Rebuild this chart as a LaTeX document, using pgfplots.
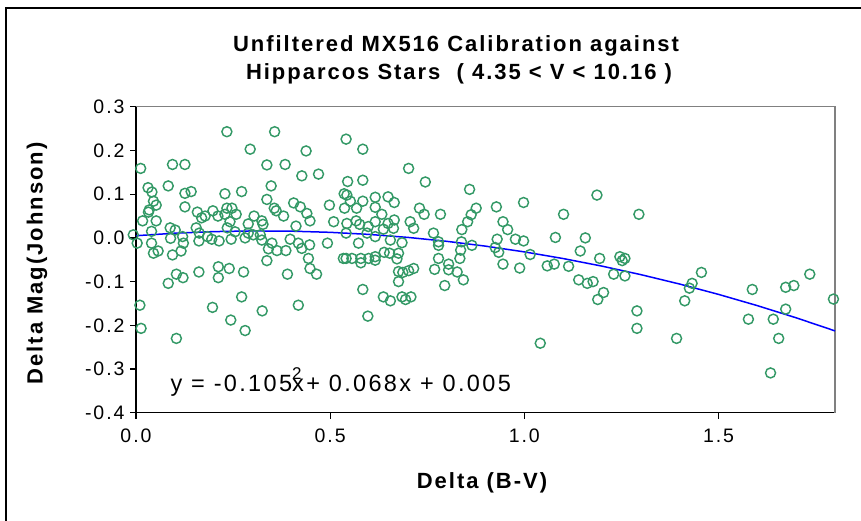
\documentclass[border=0pt]{standalone}
\usepackage{pgfplots}
\pgfplotsset{compat=1.18}
\usepackage{fontspec}
\setmainfont{Liberation Sans}
\newfontfamily\spacedfont[LetterSpace=10]{Liberation Sans}
\newfontfamily\spacedbold[LetterSpace=9]{Liberation Sans Bold}
\definecolor{markgreen}{RGB}{51,153,102}
\definecolor{fitblue}{RGB}{0,0,255}
\definecolor{boxgray}{RGB}{128,128,128}
\begin{document}
\begin{tikzpicture}[x=1pt,y=1pt]
\useasboundingbox (0,0) rectangle (861,520);
\fill[white] (0,0) rectangle (861,520);
\draw[line width=1.3pt, black] (6,-20) -- (6,512) -- (880,512);
\node[anchor=base, font=\spacedbold\fontsize{22}{26}\selectfont] at (456,468) {Unfiltered MX516 Calibration against};
\node[anchor=base, font=\spacedbold\fontsize{22}{26}\selectfont] at (459,440) {Hipparcos Stars \ ( 4.35 < V < 10.16 )};
\node[rotate=90, font=\spacedbold\fontsize{22}{26}\selectfont] at (37,256.5) {Delta Mag(Johnson)};
\node[font=\spacedbold\fontsize{22}{26}\selectfont] at (482,37) {Delta (B-V)};
\begin{axis}[
  at={(136pt,107.3pt)}, anchor=south west,
  scale only axis, width=699pt, height=305.9pt,
  xmin=0, xmax=1.8, ymin=-0.4, ymax=0.3,
  axis x line*=bottom, axis y line*=left,
  axis line style={line width=1.3pt, black, -},
  xtick={0,0.5,1,1.5},
  ytick={-0.4,-0.3,-0.2,-0.1,0,0.1,0.2,0.3},
  tick style={line width=1.2pt, black},
  major tick length=6pt, tick align=outside,
  /pgf/number format/assume math mode=true,
  xticklabel style={yshift=-7pt, font=\spacedfont\fontsize{19.5}{22}\selectfont, /pgf/number format/.cd, fixed, fixed zerofill, precision=1},
  yticklabel style={xshift=-2pt, font=\spacedfont\fontsize{19.5}{22}\selectfont, /pgf/number format/.cd, fixed, fixed zerofill, precision=1},
  clip=false,
]
\draw[line width=1.3pt, boxgray] (rel axis cs:0,1) -- (rel axis cs:1,1) -- (rel axis cs:1,0);
\addplot[only marks, mark=o, mark size=5pt, mark options={line width=1.45pt, draw=markgreen}] table[row sep=\\] {
x y\\
-0.007 0.007\\ 0.003 -0.012\\ 0.012 0.159\\ 0.010 -0.154\\ 0.013 -0.207\\ 0.017 0.039\\
0.031 0.115\\ 0.041 0.105\\ 0.045 0.084\\ 0.052 0.075\\ 0.034 0.064\\ 0.032 0.059\\
0.052 0.039\\ 0.040 0.015\\ 0.040 -0.012\\ 0.045 -0.035\\ 0.057 -0.030\\
0.083 0.119\\ 0.094 0.168\\ 0.126 0.168\\ 0.126 0.102\\ 0.142 0.106\\ 0.126 0.071\\
0.088 0.023\\ 0.101 0.018\\ 0.089 -0.001\\ 0.120 0.003\\ 0.122 -0.012\\ 0.116 -0.030\\
0.094 -0.039\\ 0.083 -0.104\\ 0.104 -0.083\\ 0.121 -0.091\\ 0.104 -0.230\\
0.158 0.059\\ 0.155 0.023\\ 0.163 0.011\\ 0.162 -0.007\\ 0.162 -0.078\\
0.169 0.046\\ 0.178 0.050\\ 0.184 0.003\\ 0.195 -0.003\\ 0.214 -0.007\\ 0.198 0.062\\
0.211 0.050\\ 0.229 0.054\\ 0.234 0.068\\ 0.247 0.068\\ 0.258 0.054\\ 0.242 0.037\\
0.235 0.023\\ 0.255 0.014\\ 0.245 -0.003\\ 0.234 0.243\\ 0.229 0.101\\ 0.212 -0.066\\
0.240 -0.070\\ 0.212 -0.091\\ 0.197 -0.159\\ 0.244 -0.188\\
0.294 0.203\\ 0.272 0.106\\ 0.277 -0.078\\ 0.272 -0.135\\ 0.281 -0.212\\ 0.289 0.032\\
0.304 0.050\\ 0.324 0.039\\ 0.327 0.031\\ 0.281 0.000\\ 0.302 0.007\\ 0.320 0.007\\
0.324 -0.005\\ 0.350 -0.012\\ 0.341 -0.025\\ 0.363 -0.029\\ 0.337 -0.052\\ 0.325 -0.167\\
0.337 0.167\\ 0.357 0.243\\ 0.348 0.119\\ 0.337 0.088\\ 0.356 0.068\\ 0.361 0.062\\
0.289 0.011\\
0.384 0.168\\ 0.380 0.050\\ 0.386 -0.029\\ 0.390 -0.083\\ 0.397 -0.003\\ 0.406 0.080\\
0.423 0.071\\ 0.440 0.056\\ 0.448 0.039\\ 0.412 0.027\\ 0.418 -0.012\\ 0.427 -0.024\\
0.447 -0.016\\ 0.444 -0.047\\ 0.448 -0.070\\ 0.465 -0.083\\ 0.418 -0.154\\ 0.427 0.142\\
0.470 0.146\\ 0.438 0.199\\
0.498 0.075\\ 0.509 0.037\\ 0.493 -0.012\\ 0.534 -0.047\\ 0.541 0.226\\ 0.584 0.203\\
0.545 0.129\\ 0.584 0.132\\ 0.536 0.101\\ 0.543 0.098\\ 0.552 0.084\\ 0.537 0.068\\
0.568 0.068\\ 0.584 0.084\\ 0.567 0.039\\ 0.576 0.031\\ 0.543 0.033\\ 0.541 0.011\\
0.573 -0.012\\ 0.541 -0.047\\ 0.556 -0.047\\ 0.579 -0.047\\ 0.579 -0.057\\ 0.584 -0.118\\
0.597 -0.179\\
0.598 0.026\\ 0.595 0.011\\ 0.599 -0.047\\ 0.616 0.093\\ 0.649 0.094\\ 0.665 0.081\\
0.616 0.070\\ 0.633 0.054\\ 0.616 0.037\\ 0.649 0.033\\ 0.665 0.041\\ 0.663 0.022\\
0.637 0.020\\ 0.655 -0.005\\ 0.616 -0.043\\ 0.616 -0.051\\ 0.639 -0.033\\ 0.653 -0.035\\
0.676 -0.035\\ 0.672 -0.048\\ 0.637 -0.135\\ 0.655 -0.144\\ 0.676 -0.077\\ 0.676 -0.100\\
0.616 0.003\\
0.685 -0.011\\ 0.685 -0.135\\ 0.694 -0.141\\ 0.708 -0.135\\ 0.687 -0.079\\ 0.702 -0.075\\
0.715 -0.070\\ 0.702 0.159\\ 0.745 0.128\\ 0.730 0.068\\ 0.742 0.054\\ 0.706 0.037\\
0.715 0.022\\ 0.766 0.011\\ 0.779 -0.009\\ 0.779 -0.017\\ 0.779 -0.047\\ 0.784 0.054\\
0.769 -0.072\\ 0.795 -0.109\\ 0.805 -0.060\\ 0.805 -0.073\\
0.827 -0.078\\ 0.843 -0.096\\ 0.834 -0.047\\ 0.836 -0.028\\ 0.838 -0.009\\ 0.839 0.019\\
0.854 0.037\\ 0.863 0.053\\ 0.876 0.068\\ 0.859 0.111\\ 0.865 -0.017\\
0.928 0.071\\ 0.945 0.037\\ 0.957 0.019\\ 0.930 -0.003\\ 0.925 -0.022\\ 0.934 -0.033\\
0.945 -0.060\\ 0.977 -0.003\\ 0.998 -0.007\\ 0.998 0.081\\ 0.988 -0.069\\ 1.015 -0.038\\
1.041 -0.241\\
1.080 0.001\\ 1.101 0.054\\ 1.059 -0.064\\ 1.077 -0.060\\ 1.114 -0.065\\ 1.144 -0.030\\
1.157 0.000\\ 1.140 -0.096\\ 1.162 -0.104\\ 1.177 -0.100\\ 1.189 -0.141\\ 1.187 0.098\\
1.194 -0.047\\ 1.204 -0.125\\
1.230 -0.083\\ 1.246 -0.043\\ 1.259 -0.047\\ 1.252 -0.052\\ 1.259 -0.087\\ 1.290 -0.167\\
1.290 -0.207\\ 1.295 0.054\\ 1.392 -0.230\\ 1.413 -0.144\\ 1.425 -0.115\\ 1.432 -0.104\\
1.456 -0.079\\
1.587 -0.118\\ 1.577 -0.186\\ 1.641 -0.186\\ 1.655 -0.230\\ 1.634 -0.309\\ 1.673 -0.113\\
1.694 -0.109\\ 1.735 -0.083\\ 1.673 -0.163\\ 1.796 -0.140\\
};
\addplot[fitblue, line width=1.5pt] coordinates {
(0.0,0.005) (0.1,0.01075) (0.2,0.0144) (0.3,0.01595) (0.4,0.0154) (0.5,0.01275)
(0.6,0.008) (0.7,0.00115) (0.8,-0.0078) (0.9,-0.01885) (1.0,-0.032) (1.1,-0.04725)
(1.2,-0.0646) (1.3,-0.08405) (1.4,-0.1056) (1.5,-0.12925) (1.6,-0.155) (1.7,-0.18285)
(1.8,-0.2128)
};
\end{axis}
\node[anchor=base west, font=\spacedfont\fontsize{23.5}{27}\selectfont] at (167,128.3)
  {y = -0.105\makebox[0pt][l]{\raisebox{0.5em}{\fontsize{17}{17}\selectfont 2}}x+ 0.068x + 0.005};
\end{tikzpicture}
\end{document}
